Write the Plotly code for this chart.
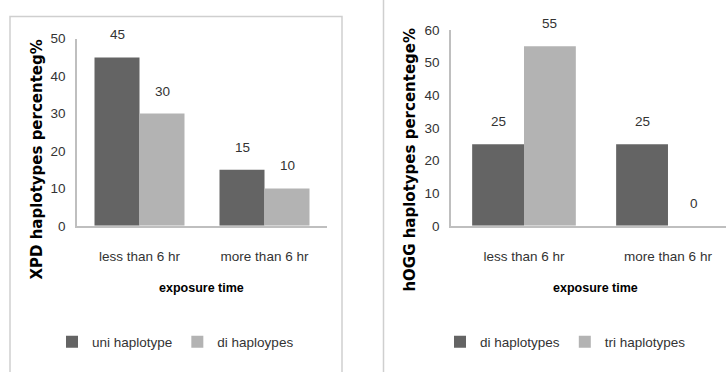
import plotly.graph_objects as go

# Haplotype percentages by exposure time
categories = ["less than 6 hr", "more than 6 hr"]

xpd_series = ["uni haplotype", "di haploypes"]
xpd_uni = [45, 15]
xpd_di = [30, 10]
xpd_ticks = [0, 10, 20, 30, 40, 50]

hogg_series = ["di haplotypes", "tri haplotypes"]
hogg_di = [25, 25]
hogg_tri = [55, 0]
hogg_ticks = [0, 10, 20, 30, 40, 50, 60]

DARK = "#646464"
LIGHT = "#b3b3b3"
AXIS = "#bfbfbf"
FRAME = "#cfcfcf"
BODY = "Liberation Sans Narrow, Liberation Sans, Arial, sans-serif"
TEXT = "#333333"
FS = 13.5

W, H = 726, 372
BARGAP = 0.28
bar_w = (1 - BARGAP) / 2

fig = go.Figure()

fig.add_trace(go.Bar(x=categories, y=xpd_uni, name=xpd_series[0], marker_color=DARK,
                     marker_line_width=0, xaxis="x", yaxis="y", legend="legend"))
fig.add_trace(go.Bar(x=categories, y=xpd_di, name=xpd_series[1], marker_color=LIGHT,
                     marker_line_width=0, xaxis="x", yaxis="y", legend="legend"))
fig.add_trace(go.Bar(x=categories, y=hogg_di, name=hogg_series[0], marker_color=DARK,
                     marker_line_width=0, xaxis="x2", yaxis="y2", legend="legend2"))
fig.add_trace(go.Bar(x=categories, y=hogg_tri, name=hogg_series[1], marker_color=LIGHT,
                     marker_line_width=0, xaxis="x2", yaxis="y2", legend="legend2"))

annotations = []
# value labels above each bar
for xref, yref, groups in [("x", "y", [xpd_uni, xpd_di]), ("x2", "y2", [hogg_di, hogg_tri])]:
    for j, vals in enumerate(groups):
        off = (j - 0.5) * bar_w
        for i, v in enumerate(vals):
            annotations.append(dict(
                x=i + off, y=v, xref=xref, yref=yref, text=str(v), showarrow=False,
                yanchor="bottom", yshift=13, font=dict(family=BODY, size=FS, color=TEXT)))

# axis titles
for xc, label in [(202, "exposure time"), (595, "exposure time")]:
    annotations.append(dict(x=xc / W, y=1 - 293 / H, xref="paper", yref="paper", text=label,
                            showarrow=False, xanchor="center", yanchor="middle",
                            font=dict(family=BODY, size=12.5, color="#000000", weight="bold")))
for xc, label in [(37, "XPD haplotypes percenteg%"), (410, "hOGG haplotypes percentege%")]:
    annotations.append(dict(x=xc / W, y=1 - 159 / H, xref="paper", yref="paper", text=label,
                            showarrow=False, textangle=-90, xanchor="center", yanchor="middle",
                            font=dict(family="DejaVu Sans, sans-serif", size=15,
                                      color="#000000", weight="bold")))

shapes = [
    # panel frames
    dict(type="rect", xref="paper", yref="paper", x0=10 / W, x1=342 / W, y0=-0.1, y1=1 - 10 / H,
         line=dict(color=FRAME, width=1.5), layer="below"),
    dict(type="line", xref="paper", yref="paper", x0=383.5 / W, x1=383.5 / W, y0=-0.1, y1=1.1,
         line=dict(color=FRAME, width=1.5), layer="below"),
]

axis_common = dict(showgrid=False, zeroline=False, showline=True, linecolor=AXIS, linewidth=1.5,
                   ticks="", tickfont=dict(family=BODY, size=FS, color=TEXT))

legend_common = dict(orientation="h", y=1 - 349 / H, xanchor="left", yanchor="middle",
                     font=dict(family=BODY, size=FS, color=TEXT), itemwidth=30,
                     bgcolor="rgba(0,0,0,0)", traceorder="normal")

fig.update_layout(
    width=W, height=H, margin=dict(l=0, r=0, t=0, b=0),
    paper_bgcolor="white", plot_bgcolor="white",
    barmode="group", bargap=BARGAP, bargroupgap=0,
    xaxis=dict(axis_common, domain=[77 / W, 327 / W], anchor="y", type="category",
               range=[-0.5, 1.5], ticklabelstandoff=17),
    yaxis=dict(axis_common, domain=[1 - 228 / H, 1 - 33 / H], anchor="x", range=[0, 50],
               tickvals=xpd_ticks, ticklabelstandoff=7),
    xaxis2=dict(axis_common, domain=[451 / W, 1.0], anchor="y2", type="category",
                range=[-0.507, 1.403], ticklabelstandoff=17),
    yaxis2=dict(axis_common, domain=[1 - 228 / H, 1 - 24 / H], anchor="x2", range=[0, 60],
                tickvals=hogg_ticks, ticklabelstandoff=7),
    legend=dict(legend_common, x=52 / W),
    legend2=dict(legend_common, x=440 / W),
    annotations=annotations,
    shapes=shapes,
)

fig.write_html("out.html")
